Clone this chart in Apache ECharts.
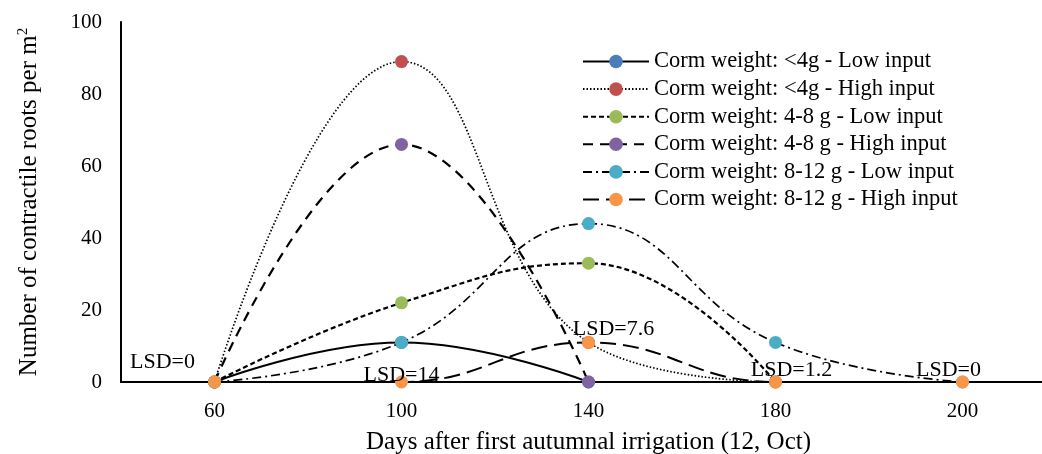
<!DOCTYPE html>
<html>
<head>
<meta charset="utf-8">
<script src="https://cdn.jsdelivr.net/npm/echarts@6/dist/echarts.min.js"></script>
<style>html,body{margin:0;padding:0;background:#fff;}#chart{width:1042px;height:454px;}</style>
</head>
<body>
<div id="chart"></div>
<script>
// ---- data ----
const categories = ['60', '100', '140', '180', '200'];
const seriesNames = [
  'Corm weight: <4g - Low input',
  'Corm weight: <4g - High input',
  'Corm weight: 4-8 g - Low input',
  'Corm weight: 4-8 g - High input',
  'Corm weight: 8-12 g - Low input',
  'Corm weight: 8-12 g - High input'
];
const lt4Low   = [0, 11, 0, null, null];
const lt4High  = [0, 89, 11, 0, null];
const w48Low   = [0, 22, 33, 0, null];
const w48High  = [0, 66, 0, null, null];
const w812Low  = [0, 11, 44, 11, 0];
const w812High = [0, 0, 11, 0, 0];
const lsdLabels = ['LSD=0', 'LSD=14', 'LSD=7.6', 'LSD=1.2', 'LSD=0'];
const yTicks = [0, 20, 40, 60, 80, 100];

// ---- styles ----
const FONT = '"Liberation Serif", "Times New Roman", serif';
const markerColors = ['#4A7EBB', '#C0504D', '#9BBB59', '#8064A2', '#4BACC6', '#F79646'];
const lineStyles = [
  { type: 'solid', width: 2 },
  { type: [1.5, 2], width: 1.7 },
  { type: [5, 3], width: 2.2 },
  { type: [10, 7], width: 2.2 },
  { type: [9, 4, 2, 4], width: 1.7 },
  { type: [16, 7], width: 2 }
];
const lsdOffsets = [[-52, -20], [0, -7], [25, -53], [16, -12], [-14, -12]];

const values = [lt4Low, lt4High, w48Low, w48High, w812Low, w812High];

const series = values.map((v, i) => ({
  name: seriesNames[i],
  type: 'line',
  data: v,
  smooth: 0.45,
  symbol: 'circle',
  symbolSize: 13,
  itemStyle: { color: markerColors[i] },
  lineStyle: Object.assign({ color: '#000' }, lineStyles[i]),
  z: 2 + i
}));

series.push({
  name: 'LSD',
  type: 'scatter',
  data: lsdLabels.map((t, i) => ({
    value: 0,
    label: { formatter: t, offset: lsdOffsets[i] }
  })),
  symbolSize: 0,
  silent: true,
  z: 20,
  itemStyle: { color: '#000', opacity: 1 },
  label: {
    show: true,
    position: 'inside',
    color: '#000',
    opacity: 1,
    textBorderWidth: 0,
    textBorderColor: 'transparent',
    fontFamily: FONT,
    fontSize: 22
  }
});

const chart = echarts.init(document.getElementById('chart'), null, { renderer: 'canvas' });
chart.setOption({
  animation: false,
  backgroundColor: '#fff',
  textStyle: { fontFamily: FONT },
  grid: { left: 121, top: 22, height: 360, width: 935, containLabel: false, outerBoundsMode: 'none' },
  legend: {
    data: seriesNames,
    orient: 'vertical',
    left: 582,
    top: 50,
    padding: 0,
    itemWidth: 66,
    itemHeight: 17,
    itemGap: 4.6,
    textStyle: { fontFamily: FONT, fontSize: 22.5, color: '#000', lineHeight: 22, padding: [0, 0, 0, 0] },
    inactiveColor: '#000'
  },
  xAxis: {
    type: 'category',
    data: categories,
    boundaryGap: true,
    axisLine: { lineStyle: { color: '#000', width: 2 } },
    axisTick: { show: false },
    axisLabel: { color: '#000', fontFamily: FONT, fontSize: 21, margin: 19 },
    name: 'Days after first autumnal irrigation (12, Oct)',
    nameLocation: 'middle',
    nameGap: 48,
    nameTextStyle: { color: '#000', fontFamily: FONT, fontSize: 25 }
  },
  yAxis: {
    type: 'value',
    min: yTicks[0],
    max: yTicks[yTicks.length - 1],
    interval: 20,
    splitLine: { show: false },
    axisLine: { show: true, lineStyle: { color: '#000', width: 2 } },
    axisTick: { show: false },
    axisLabel: { color: '#000', fontFamily: FONT, fontSize: 21, margin: 19 },
    name: 'Number of contractile roots per m{sup|2}',
    nameLocation: 'middle',
    nameRotate: 90,
    nameGap: 78,
    nameTextStyle: {
      color: '#000', fontFamily: FONT, fontSize: 25,
      rich: { sup: { fontSize: 15, verticalAlign: 'top', padding: [0, 0, 12, 0], fontFamily: FONT, color: '#000' } }
    }
  },
  series: series
});
</script>
</body>
</html>
